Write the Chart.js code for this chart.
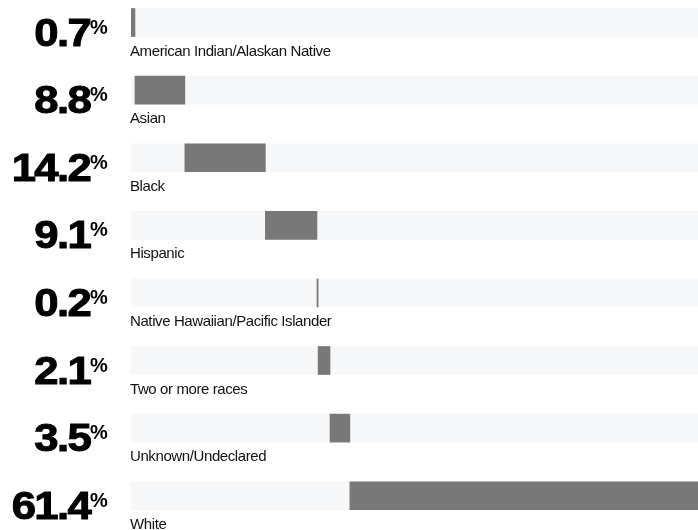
<!DOCTYPE html>
<html>
<head>
<meta charset="utf-8">
<script src="https://cdn.jsdelivr.net/npm/chart.js@4/dist/chart.umd.min.js"></script>
<style>
  html, body { margin: 0; padding: 0; background: #fff; }
  #wrap { width: 698px; height: 530px; position: relative; }
</style>
</head>
<body>
<div id="wrap"><canvas id="chart"></canvas></div>
<script>
// data
var groups = ["American Indian/Alaskan Native", "Asian", "Black", "Hispanic",
              "Native Hawaiian/Pacific Islander", "Two or more races",
              "Unknown/Undeclared", "White"];
var shares = [0.7, 8.8, 14.2, 9.1, 0.2, 2.1, 3.5, 61.4];
var shareLabels = ["0.7", "8.8", "14.2", "9.1", "0.2", "2.1", "3.5", "61.4"];

// each bar starts where the previous one stopped
var segments = [];
var trackData = [];
var run = 0;
for (var i = 0; i < shares.length; i++) {
    segments.push({ x: [run, run + shares[i]], y: i });
    trackData.push({ x: [0, 100], y: i });
    run += shares[i];
}

var labelPlugin = {
    id: 'rowText',
    afterDatasetsDraw: function (chart) {
        var ctx = chart.ctx;
        var yScale = chart.scales.y;
        ctx.save();
        for (var i = 0; i < groups.length; i++) {
            var cy = yScale.getPixelForValue(i);
            var bottom = cy + 14;

            // big number, a bit wider and heavier than plain bold
            ctx.save();
            ctx.translate(90, bottom + 9);
            ctx.scale(1.12, 1);
            ctx.fillStyle = '#000';
            ctx.strokeStyle = '#000';
            ctx.lineWidth = 1;
            ctx.textBaseline = 'alphabetic';
            ctx.font = 'bold 39px "Liberation Sans", Arial, sans-serif';
            ctx.letterSpacing = '-1.5px';
            ctx.textAlign = 'right';
            ctx.fillText(shareLabels[i], 0, 0);
            ctx.strokeText(shareLabels[i], 0, 0);
            ctx.restore();

            // small percent sign
            ctx.fillStyle = '#000';
            ctx.font = 'bold 20px "Liberation Sans", Arial, sans-serif';
            ctx.letterSpacing = '0px';
            ctx.textAlign = 'left';
            ctx.textBaseline = 'alphabetic';
            ctx.fillText('%', 90, bottom - 3);

            // category name under the bar
            ctx.font = '15px "Liberation Sans", Arial, sans-serif';
            ctx.letterSpacing = '-0.4px';
            ctx.fillStyle = '#111';
            ctx.fillText(groups[i], 130, bottom + 19);
        }
        ctx.restore();
    }
};

new Chart(document.getElementById('chart'), {
    type: 'bar',
    data: {
        datasets: [
            {
                data: segments,
                backgroundColor: '#777877',
                barThickness: 28,
                grouped: false,
                order: 1
            },
            {
                data: trackData,
                backgroundColor: '#f6f7f9',
                barThickness: 28,
                grouped: false,
                order: 2
            }
        ]
    },
    options: {
        indexAxis: 'y',
        responsive: true,
        maintainAspectRatio: false,
        animation: false,
        layout: { padding: { left: 131, right: 0, top: 0, bottom: 0 } },
        scales: {
            x: { type: 'linear', min: 0, max: 100, display: false },
            y: { type: 'linear', min: -0.333, max: 7.507, reverse: true, offset: false, display: false }
        },
        plugins: {
            legend: { display: false },
            tooltip: { enabled: false }
        }
    },
    plugins: [labelPlugin]
});
</script>
</body>
</html>
